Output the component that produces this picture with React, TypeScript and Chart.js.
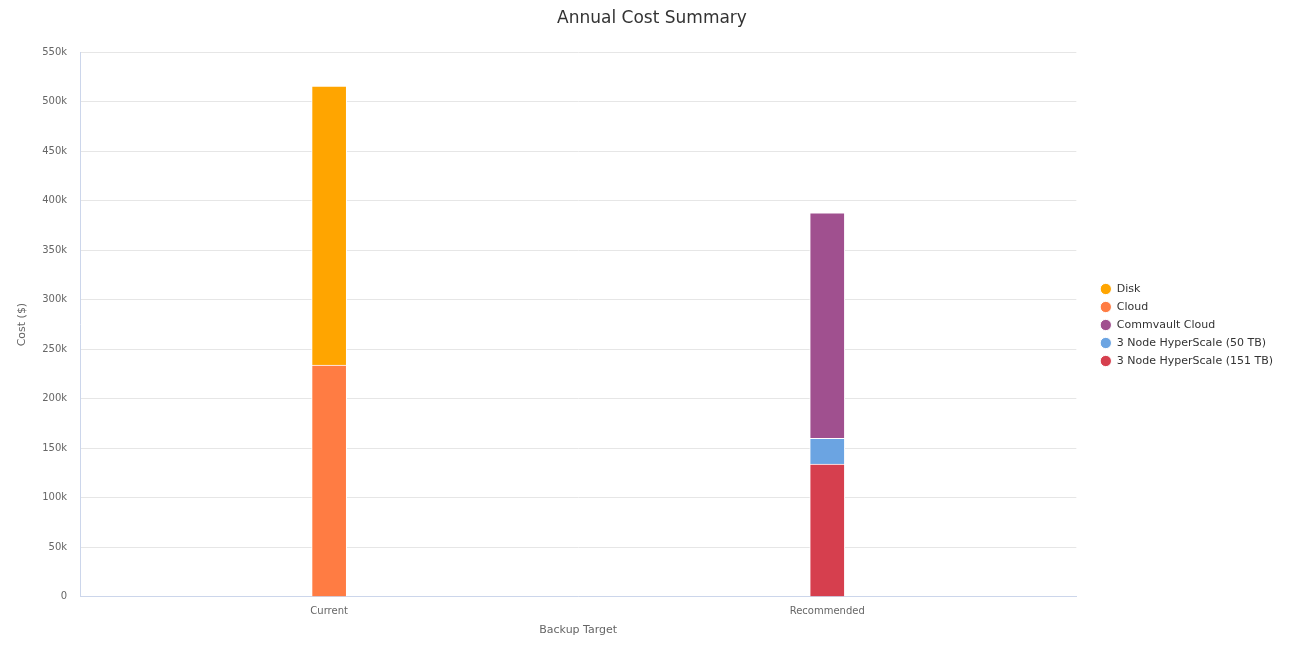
import React, { useEffect, useRef } from "react";
import { Chart, registerables } from "chart.js";

Chart.register(...registerables);

const categories = ["Current", "Recommended"];
const seriesNames = ["Disk", "Cloud", "Commvault Cloud", "3 Node HyperScale (50 TB)", "3 Node HyperScale (151 TB)"];
const diskValues = [282000, null];
const cloudValues = [234000, null];
const commvaultCloudValues = [null, 228000];
const hs50Values = [null, 26000];
const hs151Values = [null, 134000];
const seriesColors = ["#ffa500", "#ff7c43", "#a0508f", "#6ba4e2", "#d63f4e"];
const yTicks = [0, 50000, 100000, 150000, 200000, 250000, 300000, 350000, 400000, 450000, 500000, 550000];

const FONT = "'DejaVu Sans', sans-serif";
const LEGEND_EXTRA_WIDTH = 22;
const LEGEND_SHIFT = 17;
const LEGEND_RAISE = 3;

const legendGap = {
  id: "legendGap",
  beforeLayout(chart: any) {
    const lg = chart.legend;
    if (lg && !lg.__wrapped) {
      const orig = lg.fit.bind(lg);
      lg.fit = function () {
        orig();
        this.width += LEGEND_EXTRA_WIDTH;
      };
      lg.__wrapped = true;
    }
  },
  afterLayout(chart: any) {
    const lg = chart.legend;
    if (lg) {
      lg.left += LEGEND_SHIFT;
      lg.top -= LEGEND_RAISE;
      lg.bottom -= LEGEND_RAISE;
    }
  },
};

export default function App() {
  const ref = useRef<HTMLCanvasElement | null>(null);
  useEffect(() => {
    if (!ref.current) return;
    const values = [diskValues, cloudValues, commvaultCloudValues, hs50Values, hs151Values];
    const datasets = seriesNames.map((name, i) => ({
      label: name,
      data: values[i],
      backgroundColor: seriesColors[i],
      borderColor: "#ffffff",
      borderWidth: 1,
      barThickness: 35,
      stack: "s",
    })).reverse();
    const chart = new Chart(ref.current, {
      type: "bar",
      data: { labels: categories, datasets },
      plugins: [legendGap],
      options: {
        animation: false,
        responsive: true,
        maintainAspectRatio: false,
        layout: { padding: { left: 8, right: 2, top: 0, bottom: 0 } },
        plugins: {
          title: {
            display: true,
            text: "Annual Cost Summary",
            color: "#333333",
            font: { family: FONT, size: 17, weight: "normal" },
            padding: { top: 0, bottom: 24 },
          },
          legend: {
            position: "right",
            reverse: true,
            labels: {
              usePointStyle: true,
              pointStyle: "circle",
              boxWidth: 11,
              boxHeight: 8,
              color: "#333333",
              font: { family: FONT, size: 11 },
              padding: 7,
            },
          },
          tooltip: { enabled: false },
        },
        scales: {
          x: {
            stacked: true,
            grid: { display: false, drawTicks: false },
            border: { color: "#ccd6eb" },
            ticks: { color: "#666666", font: { family: FONT, size: 10 }, padding: 9 },
            title: { display: true, text: "Backup Target", color: "#666666", font: { family: FONT, size: 11 }, padding: { top: -3, bottom: 11 } },
          },
          y: {
            stacked: true,
            min: 0,
            max: 550000,
            afterBuildTicks: (axis: any) => { axis.ticks = yTicks.map((v) => ({ value: v })); },
            grid: { color: "#e6e6e6", drawTicks: false },
            border: { color: "#ccd6eb" },
            ticks: {
              color: "#666666",
              font: { family: FONT, size: 10 },
              padding: 13,
              callback: (v: any) => (Number(v) === 0 ? "0" : Number(v) / 1000 + "k"),
            },
            title: { display: true, text: "Cost ($)", color: "#666666", font: { family: FONT, size: 11 }, padding: 0 },
          },
        },
      },
    });
    return () => chart.destroy();
  }, []);
  return (
    <div style={{ width: 1282, height: 640 }}>
      <canvas ref={ref} />
    </div>
  );
}
